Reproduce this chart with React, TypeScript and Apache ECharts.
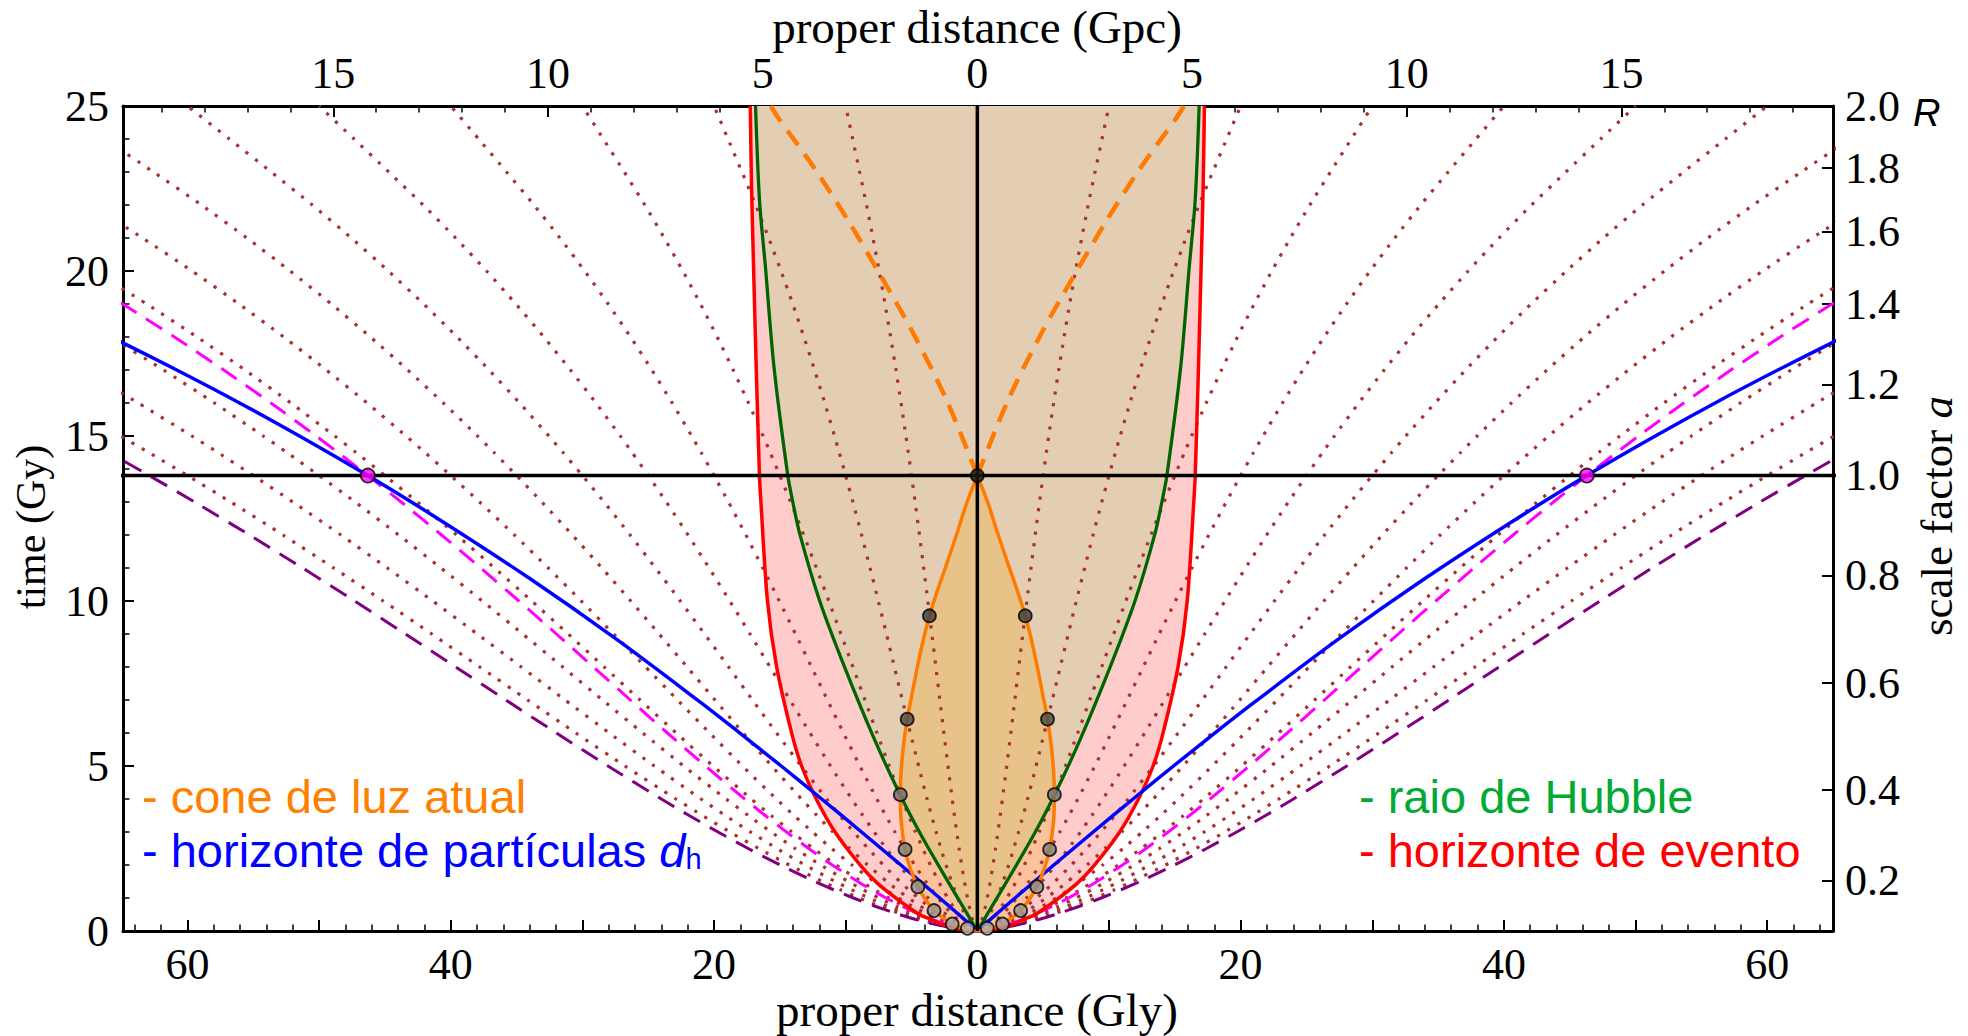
import React, { useEffect, useRef } from 'react';
import * as echarts from 'echarts';

// ---------- data ----------
const GLY_PER_GPC = 3.2616;
const NOW_T = 13.8;

// cosmic time (Gy) and the scale factor a(t) (matched to the right axis)
const timeGrid = [0, 0.02, 0.05, 0.1, 0.2, 0.35, 0.5, 0.75, 1, 1.25, 1.5, 2, 2.5, 3, 3.5, 4, 5, 6, 7, 8, 9, 10, 11, 12, 13, 13.8, 14.5, 15, 16, 17, 18, 19, 20, 21, 22, 23, 24, 25];
const scaleFactor = [0, 0.011, 0.0203, 0.0322, 0.0511, 0.0742, 0.0942, 0.1235, 0.1496, 0.1737, 0.1962, 0.2381, 0.2768, 0.3132, 0.3481, 0.3817, 0.4462, 0.5084, 0.5694, 0.6299, 0.6907, 0.7522, 0.8149, 0.8791, 0.9453, 1.0, 1.049, 1.0849, 1.159, 1.2364, 1.3173, 1.4022, 1.4915, 1.5853, 1.684, 1.7881, 1.894, 2.0];

// comoving distances (Gly) of the dotted world lines, and the two dashed ones
const worldlineComoving = [5, 10, 15, 20, 25, 30, 35, 40, 45, 50, 55, 60];
const particleHorizonComoving = 46.3; // magenta dashed
const visibilityLimitComoving = 62.9; // purple dashed

// event horizon (red), right branch
const eventT = [0, 0.05, 0.1, 0.2, 0.33, 0.5, 0.94, 1.45, 1.95, 2.96, 3.97, 5.0, 5.99, 8.01, 10.03, 13.06, 13.8, 17.1, 20.13, 22.5, 25];
const eventX = [0, 1.2, 1.8, 2.7, 3.4, 4.4, 6.0, 7.6, 8.8, 10.75, 12.2, 13.35, 14.1, 15.25, 15.95, 16.45, 16.55, 16.8, 17.0, 17.15, 17.25];

// Hubble radius (green), right branch
const hubbleT = [0, 0.64, 1.95, 2.96, 4.13, 5.79, 8.01, 10.03, 12.05, 13.06, 13.8, 17.1, 20.13, 22.15, 25];
const hubbleX = [0, 0.95, 2.9, 4.35, 5.87, 7.8, 10.1, 12.0, 13.5, 14.05, 14.4, 15.45, 16.1, 16.55, 16.85];

// particle horizon (blue), right branch
const particleT = [0, 0.5, 1, 2, 3, 4, 5, 6.19, 6.95, 8.85, 10.68, 12.5, 13.8, 15.0, 16.1, 17.1, 17.86, 18.25];
const particleX = [0, 1.41, 2.86, 5.81, 8.8, 11.83, 14.9, 18.65, 21.1, 27.45, 34.0, 41.0, 46.3, 51.5, 56.5, 61.3, 65.1, 67.1];

// present past light cone (orange solid), right branch
const pastConeT = [13.8, 13.0, 12.05, 11.04, 10.3, 9.55, 8.75, 8.01, 7.2, 6.42, 5.6, 4.9, 4.13, 3.3, 2.47, 1.9, 1.34, 0.95, 0.62, 0.38, 0.21, 0.1, 0.05, 0];
const pastConeX = [0, 0.78, 1.55, 2.4, 3.05, 3.64, 4.15, 4.55, 4.95, 5.33, 5.62, 5.78, 5.85, 5.78, 5.49, 5.1, 4.52, 3.93, 3.25, 2.57, 1.88, 1.21, 0.8, 0];

// future light cone (orange dashed), right branch
const futureConeT = [13.8, 16.1, 18.1, 19.83, 21.55, 23.1, 24.63, 25];
const futureConeX = [0, 2.35, 4.85, 7.3, 9.85, 12.35, 15.1, 15.7];

// dots on the past light cone
const coneDotT = [9.55, 6.42, 4.13, 2.47, 1.34, 0.62, 0.21, 0.08];
const coneDotX = [3.64, 5.33, 5.85, 5.49, 4.52, 3.29, 1.91, 0.75];
const coneDotColor = ['#3c3c3c', '#4a4a4a', '#6e6e6e', '#808080', '#8c8c8c', '#999999', '#a6a6a6', '#b0b0b0'];

// right axis: scale factor labels and the times where they sit
const aTickValues = [0.2, 0.4, 0.6, 0.8, 1.0, 1.2, 1.4, 1.6, 1.8, 2.0];
const aTickTimes = [1.52, 4.27, 7.51, 10.77, 13.8, 16.55, 19.0, 21.19, 23.12, 25.0];

// tick positions
const xMajorTicks = [-60, -50, -40, -30, -20, -10, 0, 10, 20, 30, 40, 50, 60];
const xLabelTicks = [-60, -40, -20, 0, 20, 40, 60];
const gpcLabelTicks = [-15, -10, -5, 0, 5, 10, 15];
const yLabelTicks = [0, 5, 10, 15, 20, 25];

const range = (a: number, b: number, s: number) => {
  const r: number[] = [];
  for (let v = a; v <= b + 1e-9; v += s) r.push(Math.round(v * 1000) / 1000);
  return r;
};
const xMinorTicks = range(-64, 64, 2).filter((v) => v % 10 !== 0);
const gpcMinorTicks = range(-19, 19, 1).filter((v) => v % 5 !== 0);
const yMinorTicks = range(1, 24, 1).filter((v) => v % 5 !== 0);

// ---------- option ----------
const SERIF = 'Liberation Serif';
const SANS = 'Liberation Sans';
const TICK_FONT = 44;

const pairs = (xs: number[], ts: number[], sign = 1) => xs.map((x, i) => [sign * x, ts[i]]);

function fillPolygon(xs: number[], ts: number[], color: string) {
  const right = pairs(xs, ts);
  const left = pairs(xs, ts, -1).reverse();
  const poly = right.concat(left);
  return {
    type: 'custom',
    xAxisIndex: 0,
    yAxisIndex: 0,
    silent: true,
    clip: true,
    data: [[0, 0]],
    renderItem: (_p: any, api: any) => ({
      type: 'polygon',
      shape: { points: poly.map((p) => api.coord(p)) },
      style: { fill: color },
    }),
  };
}

function line(data: number[][], color: string, width: number, type: any = 'solid', smooth: any = false) {
  return {
    type: 'line',
    xAxisIndex: 0,
    yAxisIndex: 0,
    data,
    symbol: 'none',
    showSymbol: false,
    silent: true,
    clip: true,
    smooth,
    lineStyle: { color, width, type, cap: 'butt', join: 'round' },
    z: 3,
  };
}

function mirrored(xs: number[], ts: number[], color: string, width: number, type: any = 'solid', smooth: any = false) {
  return [line(pairs(xs, ts), color, width, type, smooth), line(pairs(xs, ts, -1), color, width, type, smooth)];
}

function comovingLine(chi: number) {
  return scaleFactor.map((a) => a * chi);
}

function buildOption() {
  const series: any[] = [];
  // fills
  series.push(fillPolygon(eventX, eventT, '#FFCCCC'));
  series.push(fillPolygon(hubbleX, hubbleT, '#E3CEB3'));
  series.push(fillPolygon(pastConeX, pastConeT, 'rgba(240,170,30,0.28)'));

  // dotted comoving world lines
  worldlineComoving.forEach((chi) => {
    series.push(...mirrored(comovingLine(chi), timeGrid, '#A83232', 3.2, [3.2, 8.6], 0.2));
  });
  // dashed world lines
  series.push(...mirrored(comovingLine(visibilityLimitComoving), timeGrid, '#800080', 3, [19, 11], 0.2));
  series.push(...mirrored(comovingLine(particleHorizonComoving), timeGrid, '#FF00FF', 3, [19, 11], 0.2));

  // horizons and cones
  series.push(...mirrored(eventX, eventT, '#FF0000', 3.5, 'solid', 0.3));
  series.push(...mirrored(hubbleX, hubbleT, '#006400', 3.3, 'solid', 0.3));
  series.push(...mirrored(particleX, particleT, '#0000FF', 3.5, 'solid', 0.3));
  series.push(...mirrored(pastConeX, pastConeT, '#FF7A00', 3.5, 'solid', 0.3));
  series.push(...mirrored(futureConeX, futureConeT, '#FF7A00', 4.5, [18, 11], 0.3));

  // black now line and observer world line
  series.push(line([[-70, NOW_T], [70, NOW_T]], '#000000', 3.5));
  series.push(line([[0, 0], [0, 25]], '#000000', 3.5));

  // dots
  const dotData: any[] = [];
  coneDotX.forEach((x, i) => {
    dotData.push({ value: [x, coneDotT[i]], itemStyle: { color: coneDotColor[i] } });
    dotData.push({ value: [-x, coneDotT[i]], itemStyle: { color: coneDotColor[i] } });
  });
  dotData.push({ value: [0, NOW_T], itemStyle: { color: '#1a1a1a' } });
  series.push({
    type: 'scatter',
    xAxisIndex: 0,
    yAxisIndex: 0,
    data: dotData,
    symbol: 'circle',
    symbolSize: 13,
    silent: true,
    itemStyle: { borderColor: '#000', borderWidth: 1.8 },
    z: 5,
  });
  series.push({
    type: 'scatter',
    xAxisIndex: 0,
    yAxisIndex: 0,
    data: [[-particleHorizonComoving, NOW_T], [particleHorizonComoving, NOW_T]],
    symbol: 'circle',
    symbolSize: 14,
    silent: true,
    itemStyle: { color: '#FF00FF', borderColor: '#000', borderWidth: 1.8 },
    z: 5,
  });

  const axisLine = { show: true, onZero: false, lineStyle: { color: '#000', width: 3 } };
  const noLine = { show: false, onZero: false };
  const label = (extra: any) => ({
    show: true,
    color: '#000',
    fontFamily: SERIF,
    fontSize: TICK_FONT,
    ...extra,
  });
  const majorTick = (vals: number[]) => ({
    show: true, inside: true, length: 11, customValues: vals, lineStyle: { color: '#000', width: 2 },
  });
  const minorTick = (vals: number[]) => ({
    show: true, inside: true, length: 6.5, customValues: vals, lineStyle: { color: '#000', width: 1.5 },
  });
  const XMIN = -64.9, XMAX = 65;

  const xAxis = [
    {
      type: 'value', gridIndex: 0, position: 'bottom', min: XMIN, max: XMAX,
      axisLine, axisTick: majorTick(xMajorTicks), splitLine: { show: false },
      axisLabel: label({ customValues: xLabelTicks, margin: 11, formatter: (v: number) => String(Math.abs(Math.round(v))) }),
    },
    {
      type: 'value', gridIndex: 0, position: 'bottom', min: XMIN, max: XMAX,
      axisLine: noLine, axisTick: minorTick(xMinorTicks), splitLine: { show: false }, axisLabel: { show: false },
    },
    {
      type: 'value', gridIndex: 0, position: 'top', min: XMIN, max: XMAX,
      axisLine, axisTick: majorTick(gpcLabelTicks.map((g) => g * GLY_PER_GPC)), splitLine: { show: false },
      axisLabel: label({
        customValues: gpcLabelTicks.map((g) => g * GLY_PER_GPC),
        margin: 11,
        formatter: (v: number) => String(Math.abs(Math.round(v / GLY_PER_GPC))),
      }),
    },
    {
      type: 'value', gridIndex: 0, position: 'top', min: XMIN, max: XMAX,
      axisLine: noLine, axisTick: minorTick(gpcMinorTicks.map((g) => g * GLY_PER_GPC)), splitLine: { show: false },
      axisLabel: { show: false },
    },
  ];

  const yAxis = [
    {
      type: 'value', gridIndex: 0, position: 'left', min: 0, max: 25,
      axisLine, axisTick: majorTick(yLabelTicks), splitLine: { show: false },
      axisLabel: label({ customValues: yLabelTicks, margin: 14 }),
    },
    {
      type: 'value', gridIndex: 0, position: 'left', min: 0, max: 25,
      axisLine: noLine, axisTick: minorTick(yMinorTicks), splitLine: { show: false }, axisLabel: { show: false },
    },
    {
      type: 'value', gridIndex: 0, position: 'right', min: 0, max: 25,
      axisLine, axisTick: majorTick(aTickTimes), splitLine: { show: false },
      axisLabel: label({
        customValues: aTickTimes,
        margin: 12,
        formatter: (v: number) => {
          const i = aTickTimes.findIndex((t) => Math.abs(t - v) < 1e-6);
          return i >= 0 ? aTickValues[i].toFixed(1) : '';
        },
      }),
    },
  ];

  const titleFont = `47px "${SERIF}"`;
  const legendFont = 47;
  const center = { align: 'center', verticalAlign: 'middle', textAlign: 'center', textVerticalAlign: 'middle' };
  const leftMid = { align: 'left', verticalAlign: 'middle', textAlign: 'left', textVerticalAlign: 'middle' };
  const graphic: any[] = [
    { type: 'text', x: 977, y: 27, z: 100, style: { text: 'proper distance (Gpc)', font: titleFont, fill: '#000', ...center } },
    { type: 'text', x: 977, y: 1010, z: 100, style: { text: 'proper distance (Gly)', font: titleFont, fill: '#000', ...center } },
    { type: 'text', x: 31, y: 527, rotation: Math.PI / 2, z: 100, style: { text: 'time (Gy)', font: `42px "${SERIF}"`, fill: '#000', ...center } },
    {
      type: 'text', x: 1937, y: 516, rotation: Math.PI / 2, z: 100,
      style: {
        text: '{n|scale factor }{i|a}',
        ...center,
        rich: {
          n: { fontFamily: SERIF, fontSize: 45, fill: '#000' },
          i: { fontFamily: SERIF, fontSize: 45, fontStyle: 'italic', fill: '#000' },
        },
      },
    },
    { type: 'text', x: 1913, y: 113, z: 100, style: { text: 'R', font: `italic 38px "${SANS}"`, fill: '#000', ...leftMid } },
    { type: 'text', x: 142, y: 796, z: 100, style: { text: '- cone de luz atual', font: `${legendFont}px "${SANS}"`, fill: '#FF7F00', ...leftMid } },
    {
      type: 'text', x: 142, y: 850, z: 100,
      style: {
        text: '{b|- horizonte de partículas }{d|d}{h|h}',
        ...leftMid,
        rich: {
          b: { fontFamily: SANS, fontSize: legendFont, fill: '#0000FF' },
          d: { fontFamily: SANS, fontSize: legendFont, fontStyle: 'italic', fill: '#0000FF' },
          h: { fontFamily: SANS, fontSize: 29, fill: '#0000FF', verticalAlign: 'bottom' },
        },
      },
    },
    { type: 'text', x: 1359, y: 796, z: 100, style: { text: '- raio de Hubble', font: `${legendFont}px "${SANS}"`, fill: '#00AA33', ...leftMid } },
    { type: 'text', x: 1359, y: 850, z: 100, style: { text: '- horizonte de evento', font: `${legendFont}px "${SANS}"`, fill: '#FF0000', ...leftMid } },
  ];

  return {
    animation: false,
    backgroundColor: '#ffffff',
    grid: { left: 123, right: 135, top: 106, bottom: 105, containLabel: false },
    xAxis,
    yAxis,
    series,
    graphic,
  };
}

export default function App() {
  const ref = useRef<HTMLDivElement>(null);
  useEffect(() => {
    document.body.style.margin = '0';
    const chart = echarts.init(ref.current as HTMLDivElement, null, { renderer: 'svg' });
    chart.setOption(buildOption() as any);
    return () => chart.dispose();
  }, []);
  return <div ref={ref} style={{ width: 1968, height: 1036 }} />;
}
